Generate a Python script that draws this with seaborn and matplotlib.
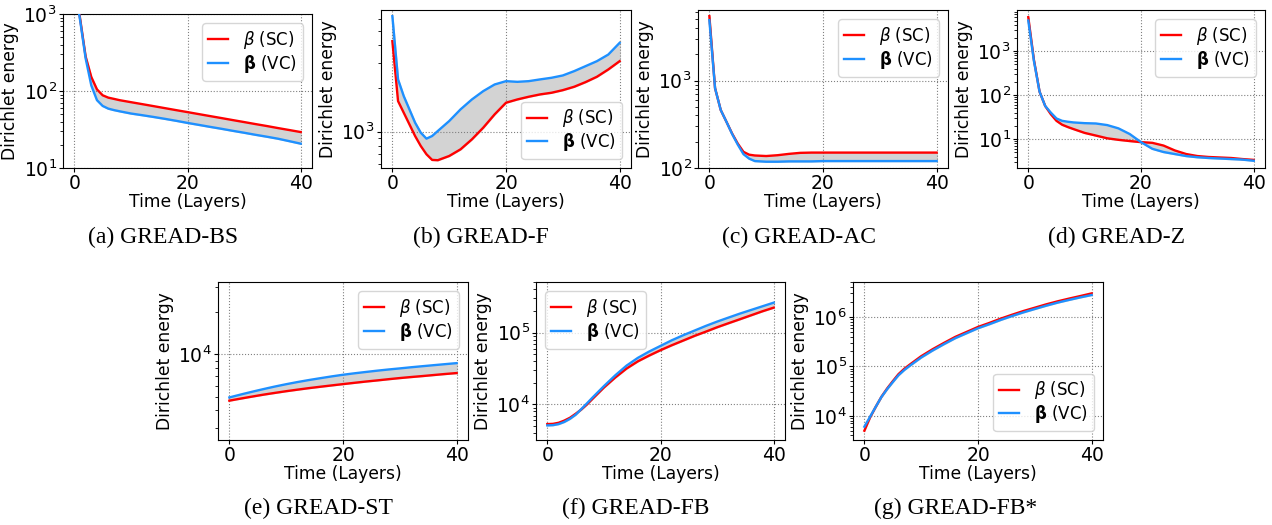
import matplotlib
matplotlib.use("Agg")
import matplotlib.pyplot as plt
import matplotlib.ticker as mticker
import seaborn as sns

layers = [0, 1, 2, 3, 4, 5, 6, 7, 8, 10, 12, 14, 16, 18, 20, 22, 24, 26, 28, 30, 32, 34, 36, 38, 40]

# (a) GREAD-BS
bs_sc = [2700, 890, 280, 152, 105, 88, 82, 79, 76, 71.6, 67.5, 63.6, 59.9, 56.4, 53.2, 50.1, 47.2, 44.5, 41.9, 39.5, 37.2, 35.1, 33.0, 31.1, 29.3]
bs_vc = [2600, 850, 265, 118, 76, 64, 59, 56.5, 54.5, 51, 48.5, 46, 43.5, 41, 38.5, 36.3, 34.2, 32.3, 30.4, 28.7, 27, 25.5, 24, 22.3, 20.7]
# (b) GREAD-F
f_sc = [4220, 1627, 1352, 1124, 933, 796, 698, 638, 635, 679, 755, 885, 1066, 1317, 1585, 1670, 1743, 1809, 1857, 1936, 2043, 2200, 2395, 2690, 3070]
f_vc = [6280, 2297, 1762, 1426, 1154, 984, 895, 933, 1011, 1184, 1426, 1670, 1907, 2119, 2234, 2210, 2234, 2297, 2357, 2446, 2620, 2836, 3070, 3410, 4110]
# (c) GREAD-AC
ac_sc = [5440, 817, 460, 338, 248, 190, 153, 142, 139, 137, 140, 145, 149, 150, 150, 150, 150, 150, 150, 150, 150, 150, 150, 150, 150]
ac_vc = [4900, 817, 460, 338, 245, 185, 144, 128, 120, 118, 118, 119, 119, 119, 120, 120, 120, 120, 120, 120, 120, 120, 120, 120, 120]
# (d) GREAD-Z
z_sc = [5960, 635, 120, 56.6, 36.8, 26, 21.2, 18.8, 16.9, 13.8, 12, 10.4, 9.6, 9.0, 8.5, 8.2, 7.1, 5.5, 4.56, 4.1, 3.9, 3.8, 3.7, 3.5, 3.35]
z_vc = [5000, 600, 120, 56.6, 40, 29.4, 26, 24.8, 23.9, 23, 22.6, 20.8, 17.5, 13, 8.5, 6.0, 5.06, 4.55, 4.1, 3.85, 3.7, 3.6, 3.5, 3.4, 3.2]
# (e) GREAD-ST
st_sc = [4690, 4770, 4850, 4930, 5010, 5090, 5170, 5245, 5320, 5470, 5610, 5750, 5880, 6010, 6140, 6270, 6400, 6520, 6650, 6775, 6890, 7000, 7120, 7240, 7350]
st_vc = [4940, 5060, 5180, 5300, 5420, 5540, 5660, 5780, 5900, 6130, 6350, 6560, 6760, 6960, 7150, 7320, 7480, 7640, 7790, 7930, 8080, 8220, 8360, 8500, 8640]
# (f) GREAD-FB
fb_sc = [5330, 5370, 5560, 5960, 6530, 7410, 8500, 10000, 12000, 17200, 23700, 31600, 39800, 47900, 56900, 66700, 77400, 89900, 103000, 118600, 134900, 153100, 174000, 197800, 222400]
fb_vc = [5110, 5150, 5330, 5710, 6310, 7190, 8600, 10350, 12500, 17990, 25400, 34700, 44500, 54500, 65300, 78200, 91800, 106600, 123800, 142200, 161600, 183500, 206400, 232100, 261000]
# (g) GREAD-FB*
fbs_sc = [4980, 9250, 15200, 24200, 35600, 50100, 69500, 88900, 108800, 160500, 222000, 298000, 395000, 498000, 628000, 757000, 925000, 1110000, 1320000, 1540000, 1800000, 2070000, 2350000, 2650000, 3000000]
fbs_vc = [6000, 9550, 15200, 24000, 34500, 48000, 66000, 84000, 103000, 151000, 209000, 281000, 372000, 469000, 591000, 713000, 871000, 1045000, 1240000, 1450000, 1690000, 1950000, 2210000, 2490000, 2780000]

captions = ["(a) GREAD-BS", "(b) GREAD-F", "(c) GREAD-AC", "(d) GREAD-Z",
            "(e) GREAD-ST", "(f) GREAD-FB", "(g) GREAD-FB*"]

W, H = 1272, 525
fig = plt.figure(figsize=(W / 100, H / 100), dpi=100)

# (left, top, width, height) in pixels, legend location, y limits
panels = [
    (bs_sc, bs_vc, (63, 14, 249, 154), "upper right", (10, 1000)),
    (f_sc, f_vc, (381, 10, 250, 158), "lower right", (561, 6930)),
    (ac_sc, ac_vc, (698, 10, 250, 158), "upper right", (100, 6400)),
    (z_sc, z_vc, (1017, 10, 248, 158), "upper right", (2.19, 8690)),
    (st_sc, st_vc, (218, 282, 250, 158), "upper right", (2470, 32400)),
    (fb_sc, fb_vc, (536, 282, 249, 158), "upper left", (3200, 506000)),
    (fbs_sc, fbs_vc, (853, 282, 250, 158), "lower right", (3230, 5.1e6)),
]
cap_pos = [(163, 237), (481, 237), (799, 237), (1117, 237),
           (318, 508), (636, 508), (956, 508)]

for (sc, vc, (l, t, w, h), loc, ylim), cap, (cx, cy) in zip(panels, captions, cap_pos):
    ax = fig.add_axes([l / W, 1 - (t + h) / H, w / W, h / H])
    ax.set_yscale("log")
    ax.fill_between(layers, sc, vc, color="lightgray", zorder=1)
    sns.lineplot(x=layers, y=sc, ax=ax, color="red", linewidth=1.7,
                 label=r"$\beta$ (SC)", zorder=3)
    sns.lineplot(x=layers, y=vc, ax=ax, color="dodgerblue", linewidth=1.7,
                 label=r"$\mathbf{\beta}$ (VC)", zorder=3)
    ax.set_xlim(-2, 42)
    ax.set_ylim(*ylim)
    ax.set_xticks([0, 20, 40])
    ax.yaxis.set_minor_formatter(mticker.NullFormatter())
    ax.grid(True, which="major", linestyle=":", color="gray", linewidth=0.8)
    ax.tick_params(labelsize=13.5, length=3, pad=1.5)
    ax.tick_params(which="minor", length=2)
    ax.set_xlabel("Time (Layers)", fontsize=12.3, labelpad=0)
    ax.set_ylabel("Dirichlet energy", fontsize=12.3, labelpad=3)
    ax.legend(loc=loc, fontsize=12, handlelength=1.2, handletextpad=0.9,
              labelspacing=0.1, borderpad=0.35, borderaxespad=0.55)
    fig.text(cx / W, 1 - cy / H, cap, ha="center", va="center",
             fontsize=17, family="Liberation Serif")

fig.savefig("out.png", dpi=100)
